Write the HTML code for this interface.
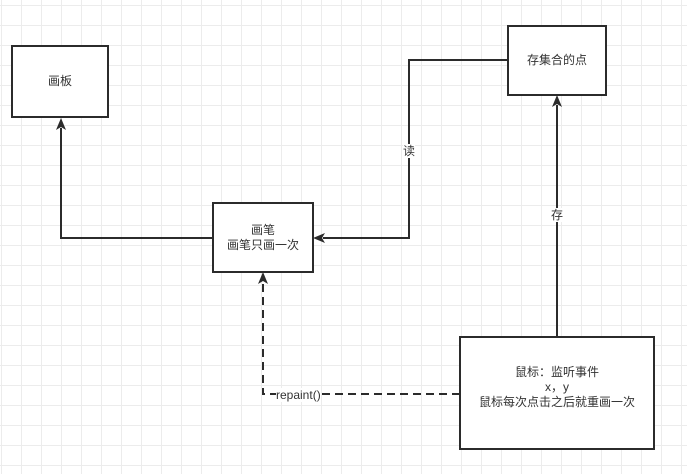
<html><head><style>
body{margin:0;width:687px;height:474px;overflow:hidden;background:#fff;
background-image:linear-gradient(#ececec 1px,transparent 1px),linear-gradient(90deg,#ececec 1px,transparent 1px);background-size:20px 20px;background-position:1px 5px;
font-family:"Liberation Sans","Noto Sans CJK SC",sans-serif;font-size:12px;color:#333}
.b{position:absolute;border:2px solid #2b2b2b;background:#fff;box-sizing:border-box;display:flex;align-items:center;justify-content:center;text-align:center;line-height:15px}
.l{position:absolute;background:#fff;font-size:12px;line-height:14px;color:#333}
</style></head><body>
<svg width="687" height="474" style="position:absolute;left:0;top:0">
<g stroke="#2b2b2b" stroke-width="2" fill="none">
<polyline points="213,238 61,238 61,128"/>
<polyline points="507,60 409,60 409,238 323,238"/>
<polyline points="557,337 557,105"/>
<polyline points="460,394 263,394 263,282" stroke-dasharray="8,5"/>
</g>
<g fill="#2b2b2b">
<polygon points="61,118 56,130 61,127 66,130"/>
<polygon points="313,238 325,233 322,238 325,243"/>
<polygon points="557,95 552,107 557,104 562,107"/>
<polygon points="263,272 258,284 263,281 268,284"/>
</g>
</svg>
<div class="b" style="left:11px;top:45px;width:98px;height:73px">画板</div>
<div class="b" style="left:507px;top:25px;width:100px;height:71px">存集合的点</div>
<div class="b" style="left:212px;top:202px;width:102px;height:71px">画笔<br>画笔只画一次</div>
<div class="b" style="left:459px;top:336px;width:196px;height:114px;padding-bottom:12px">鼠标：监听事件<br>x，y<br>鼠标每次点击之后就重画一次</div>
<div class="l" style="left:403px;top:144px">读</div>
<div class="l" style="left:551px;top:208px">存</div>
<div class="l" style="left:276px;top:388px">repaint()</div>
</body></html>
